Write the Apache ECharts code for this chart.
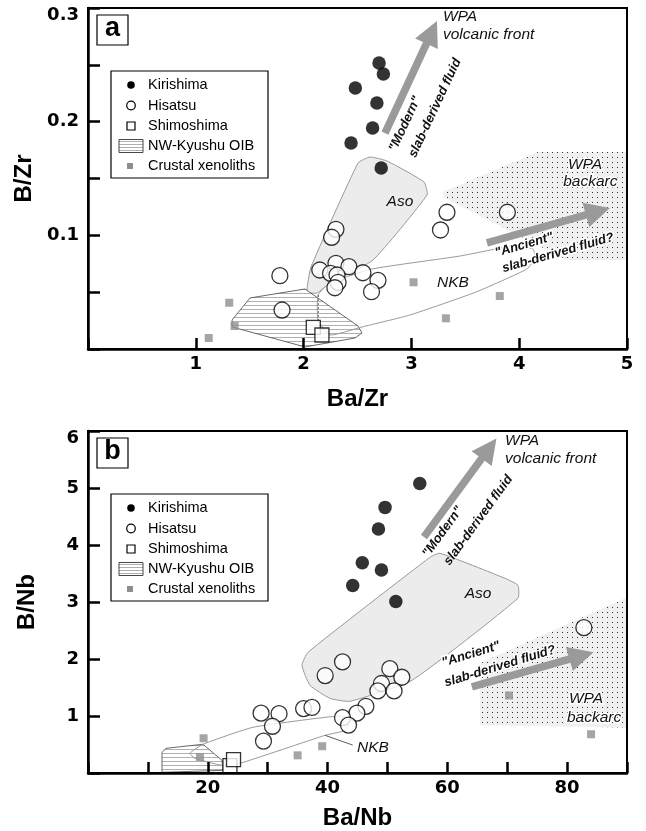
<!DOCTYPE html>
<html><head><meta charset="utf-8">
<script src="https://cdn.jsdelivr.net/npm/echarts@6/dist/echarts.min.js"></script>
<style>html,body{margin:0;padding:0;background:#fff}#c{width:646px;height:831px}</style>
</head><body><div id="c"></div>
<script>
// ================= DATA =================
// Panel a : Ba/Zr (x) vs B/Zr (y)
const xTicksA = [1, 2, 3, 4, 5];
const yTicksA = [0.1, 0.2, 0.3];
const kirishimaA = [[2.70,0.2516],[2.74,0.2419],[2.48,0.2296],[2.68,0.2164],[2.64,0.1944],[2.44,0.1812],[2.72,0.1592]];
const hisatsuA = [[2.30,0.1053],[2.26,0.0983],[1.78,0.0645],[2.15,0.0695],[2.30,0.0754],[2.42,0.0724],[2.25,0.0666],
  [2.31,0.0651],[2.32,0.0587],[2.29,0.0539],[2.55,0.0671],[2.69,0.0604],[2.63,0.0504],[1.80,0.0343],
  [3.33,0.1203],[3.27,0.1047],[3.89,0.1203]];
const shimoshimaA = [[2.09,0.0191],[2.17,0.0123]];
const crustalA = [[1.31,0.0407],[1.36,0.0202],[1.12,0.0097],[3.02,0.0587],[3.82,0.0466],[3.32,0.0270]];
// fields (vertices in data units)
const oibA = [[1.336,0.0255],[1.503,0.0449],[2.013,0.0528],[2.505,0.0202],[2.542,0.0141],[2.477,0.0097],[2.013,0.0018],[1.336,0.0194]];
const oibDivideA = [[2.137,0.0475],[2.137,0.0229]];
const asoA = [[2.032,0.0501],[2.069,0.0721],[2.505,0.1636],[2.616,0.1689],[2.774,0.1654],[3.117,0.1469],[3.145,0.1355],[2.644,0.0783],[2.245,0.0581],[2.124,0.0493]];
const nkbA = [[2.134,0.0475],[2.245,0.0581],[2.635,0.0704],[3.451,0.0818],[3.942,0.0906],[4.128,0.0880],[4.147,0.0801],[4.072,0.0704],[3.599,0.0501],[2.987,0.0299],[2.542,0.0194],[2.245,0.0123],[2.134,0.0255]];
const backarcA = [[3.293,0.1381],[4.174,0.1733],[5.0,0.1733],[5.0,0.0783],[4.443,0.0783],[3.293,0.1337]];
const modernArrowA = [2.755,0.190,3.237,0.2886];
const ancientArrowA = [3.701,0.0933,4.842,0.124];

// Panel b : Ba/Nb (x) vs B/Nb (y)
const xTicksB = [20, 40, 60, 80];
const yTicksB = [1, 2, 3, 4, 5, 6];
const kirishimaB = [[55.4,5.08],[49.6,4.66],[48.5,4.28],[45.8,3.69],[49.0,3.56],[44.2,3.29],[51.4,3.01]];
const hisatsuB = [[28.9,1.05],[31.9,1.04],[30.8,0.82],[29.3,0.56],[36.0,1.13],[37.4,1.15],[39.6,1.71],[42.5,1.95],
  [50.4,1.83],[52.4,1.68],[49.0,1.57],[48.4,1.44],[51.1,1.44],[46.4,1.17],[44.9,1.05],[42.5,0.97],[43.5,0.84],[82.8,2.55]];
const shimoshimaB = [[23.7,0.13],[24.3,0.235]];
const crustalB = [[19.3,0.61],[18.7,0.28],[35.0,0.31],[39.1,0.47],[70.3,1.36],[84.0,0.68]];
const oibB = [[12.36,0.363],[13.02,0.433],[19.2,0.504],[22.37,0.223],[22.54,0.047],[12.36,0.012]];
const asoB = [[35.73,1.889],[36.73,2.117],[57.1,3.784],[58.77,3.854],[69.62,3.416],[71.79,3.293],[71.79,3.065],[54.09,1.626],[43.74,1.258],[40.4,1.31],[37.06,1.539]];
const nkbB = [[17.03,0.346],[19.2,0.504],[27.55,0.802],[41.24,0.995],[43.74,0.96],[42.9,0.75],[39.57,0.661],[25.38,0.17],[22.37,0.135],[17.86,0.258]];
const nkbLeaderB = [[39.6,0.66],[44.2,0.49]];
const backarcB = [[65.45,1.925],[90,3.08],[90,0.80],[65.45,0.837]];
const modernArrowB = [56.1,4.14,68.2,5.87];
const ancientArrowB = [64.1,1.51,84.4,2.12];

// ================= ANNOTATIONS (anchors in data units) =================
const IT = 'italic 15.5px "Liberation Sans", Arial, sans-serif';
const BI = 'italic bold 13px "Liberation Sans", Arial, sans-serif';
const notesA = [
  {text:'WPA', at:[3.293,0.2921], font:IT, align:'left'},
  {text:'volcanic front', at:[3.293,0.2762], font:IT, align:'left'},
  {text:'"Modern"', at:[2.941,0.1979], font:BI, rot:65},
  {text:'slab-derived fluid', at:[3.219,0.2120], font:BI, rot:65},
  {text:'Aso', at:[2.894,0.1293], font:IT},
  {text:'NKB', at:[3.386,0.0581], font:IT},
  {text:'WPA', at:[4.61,0.1619], font:IT, halo:true},
  {text:'backarc', at:[4.66,0.1469], font:IT, halo:true},
  {text:'"Ancient"', at:[4.045,0.0915], font:BI, rot:16, halo:true},
  {text:'slab-derived fluid?', at:[4.36,0.0845], font:BI, rot:16, halo:true}
];
const notesB = [
  {text:'WPA', at:[69.63,5.837], font:IT, align:'left'},
  {text:'volcanic front', at:[69.63,5.521], font:IT, align:'left'},
  {text:'"Modern"', at:[59.23,4.228], font:BI, rot:54},
  {text:'slab-derived fluid', at:[65.17,4.433], font:BI, rot:54},
  {text:'Aso', at:[65.12,3.153], font:IT},
  {text:'"Ancient"', at:[63.95,2.083], font:BI, rot:17, halo:true},
  {text:'slab-derived fluid?', at:[68.79,1.872], font:BI, rot:17, halo:true},
  {text:'WPA', at:[83.15,1.311], font:IT, halo:true},
  {text:'backarc', at:[84.5,0.977], font:IT, halo:true},
  {text:'NKB', at:[47.59,0.451], font:IT}
];

// ================= HELPERS =================
function makePattern(w, h, draw) {
  const c = document.createElement('canvas'); c.width = w; c.height = h;
  draw(c.getContext('2d')); return c;
}
const hatchImg = makePattern(4, 4, g => { g.fillStyle = '#fff'; g.fillRect(0,0,4,4); g.fillStyle = '#b0b0b0'; g.fillRect(0,1,4,1); });
const dotImg = makePattern(5, 5, g => { g.fillStyle = '#f0f0f0'; g.fillRect(0,0,5,5); g.fillStyle = '#333'; g.fillRect(2,2,1,1); });

function polySeries(gi, verts, style, smooth) {
  return {
    type:'custom', xAxisIndex:gi, yAxisIndex:gi, silent:true, clip:true,
    data: verts,
    renderItem: function (params, api) {
      if (params.dataIndex !== 0) return null;
      return {type:'polygon', shape:{points: verts.map(v => api.coord(v)), smooth: smooth || 0}, style: style};
    }
  };
}
function lineSeries(gi, verts, style) {
  return {
    type:'custom', xAxisIndex:gi, yAxisIndex:gi, silent:true, clip:true,
    data: verts,
    renderItem: function (params, api) {
      if (params.dataIndex !== 0) return null;
      return {type:'polyline', shape:{points: verts.map(v => api.coord(v))}, style: style};
    }
  };
}
function arrowSeries(gi, arr) {
  return {
    type:'custom', xAxisIndex:gi, yAxisIndex:gi, silent:true, clip:false,
    encode:{x:[0,2], y:[1,3]},
    data:[arr],
    renderItem: function (params, api) {
      const a = api.coord([api.value(0), api.value(1)]);
      const b = api.coord([api.value(2), api.value(3)]);
      const dx = b[0]-a[0], dy = b[1]-a[1], len = Math.hypot(dx, dy);
      const ux = dx/len, uy = dy/len, nx = -uy, ny = ux;
      const w = 3.8, H = 12.5, L = 25;
      const bx = b[0]-ux*L, by = b[1]-uy*L;
      const pts = [
        [a[0]+nx*w, a[1]+ny*w],[bx+nx*w, by+ny*w],[bx+nx*H, by+ny*H],[b[0],b[1]],
        [bx-nx*H, by-ny*H],[bx-nx*w, by-ny*w],[a[0]-nx*w, a[1]-ny*w]];
      return {type:'polygon', shape:{points:pts}, style:{fill:'#9a9a9a'}};
    }
  };
}
function textSeries(gi, items) {
  return {
    type:'custom', xAxisIndex:gi, yAxisIndex:gi, silent:true, clip:false,
    data: items.map(t => t.at),
    renderItem: function (params, api) {
      const t = items[params.dataIndex];
      const p = api.coord(t.at);
      return {type:'text', x:p[0], y:p[1], rotation:(t.rot||0)*Math.PI/180,
        style:{text:t.text, font:t.font, fill:'#111', align:t.align||'center', verticalAlign:'middle',
          stroke: t.halo ? '#fff' : null, lineWidth: t.halo ? 3 : 0}};
    }
  };
}
function scatter(gi, data, symbol, size, itemStyle) {
  return {type:'scatter', xAxisIndex:gi, yAxisIndex:gi, data:data, symbol:symbol, symbolSize:size,
    itemStyle:itemStyle, silent:true};
}

const TICKFONT = {fontFamily:'"DejaVu Sans", sans-serif', fontWeight:'bold', fontSize:18, color:'#000'};
function near(v, t) { return Math.abs(v - t) < 1e-6; }
function makeX(gi, min, max, interval, ticks, name, gap) {
  return {type:'value', gridIndex:gi, min:min, max:max, interval:interval, z:20,
    name:name, nameLocation:'middle', nameGap:gap,
    nameTextStyle:{fontFamily:'"Liberation Sans", Arial, sans-serif', fontWeight:'bold', fontSize:24, color:'#000'},
    axisLine:{lineStyle:{color:'#000', width:2.5}},
    axisTick:{inside:true, length:11, lineStyle:{color:'#000', width:2.5}},
    axisLabel:Object.assign({margin:6, formatter: v => ticks.some(t => near(t, v)) ? String(ticks.find(t => near(t, v))) : ''}, TICKFONT),
    splitLine:{show:false}};
}
function makeY(gi, min, max, interval, ticks, top, name, fmt) {
  return {type:'value', gridIndex:gi, min:min, max:max, interval:interval, z:20,
    name:name, nameLocation:'middle', nameGap:49, nameRotate:90,
    nameTextStyle:{fontFamily:'"Liberation Sans", Arial, sans-serif', fontWeight:'bold', fontSize:24, color:'#000'},
    axisLine:{lineStyle:{color:'#000', width:2.5}},
    axisTick:{inside:true, length:12, lineStyle:{color:'#000', width:2.5}},
    axisLabel:Object.assign({margin:9,
      formatter: v => {
        const t = ticks.find(t => near(t, v));
        if (t === undefined) return '';
        return near(t, top) ? '{t|' + fmt(t) + '}' : fmt(t);
      },
      rich:{t:Object.assign({padding:[14,0,0,0]}, TICKFONT)}}, TICKFONT),
    splitLine:{show:false}};
}

// ================= LEGEND / PANEL LETTERS (graphic) =================
function legendGroup(x, y) {
  const rows = [14, 34.5, 55, 75, 95];
  const tx = 37, sx = 20;
  const font = '14.5px "Liberation Sans", Arial, sans-serif';
  const names = ['Kirishima', 'Hisatsu', 'Shimoshima', 'NW-Kyushu OIB', 'Crustal xenoliths'];
  const ch = [
    {type:'rect', shape:{x:0, y:0, width:157, height:107}, style:{fill:'#fff', stroke:'#000', lineWidth:1.2}},
    {type:'circle', shape:{cx:sx, cy:rows[0], r:3.8}, style:{fill:'#000'}},
    {type:'circle', shape:{cx:sx, cy:rows[1], r:4.3}, style:{fill:'#fff', stroke:'#000', lineWidth:1.2}},
    {type:'rect', shape:{x:sx-4, y:rows[2]-4, width:8, height:8}, style:{fill:'#fff', stroke:'#000', lineWidth:1.2}},
    {type:'rect', shape:{x:sx-4, y:rows[4]-3, width:6, height:6}, style:{fill:'#8e8e8e'}}
  ];
  for (let k = 0; k < 4; k++) {
    ch.push({type:'line', shape:{x1:sx-12, y1:rows[3]-4.5+k*3, x2:sx+12, y2:rows[3]-4.5+k*3}, style:{stroke:'#b0b0b0', lineWidth:1}});
  }
  ch.push({type:'rect', shape:{x:sx-12, y:rows[3]-6.5, width:24, height:13}, style:{fill:null, stroke:'#333', lineWidth:0.9}});
  names.forEach((n, i) => ch.push({type:'text', x:tx, y:rows[i], style:{text:n, font:font, fill:'#000', align:'left', verticalAlign:'middle'}}));
  return {type:'group', x:x, y:y, children:ch, z:50};
}
function letterGroup(x, y, letter) {
  return {type:'group', x:x, y:y, z:50, children:[
    {type:'rect', shape:{x:0, y:0, width:31, height:30}, style:{fill:'#fff', stroke:'#000', lineWidth:1.2}},
    {type:'text', x:15.5, y:14, style:{text:letter, font:'bold 27px "Liberation Sans", Arial, sans-serif', fill:'#000', align:'center', verticalAlign:'middle'}}
  ]};
}

// ================= OPTION =================
const hatchFill = {image:hatchImg, repeat:'repeat'};
const dotFill = {image:dotImg, repeat:'repeat'};
const option = {
  animation:false,
  backgroundColor:'#fff',
  grid:[
    {left:88, top:8, width:539, height:341, show:true, borderColor:'#000', borderWidth:2, z:20, backgroundColor:'transparent'},
    {left:88, top:431, width:539, height:342, show:true, borderColor:'#000', borderWidth:2, z:20, backgroundColor:'transparent'}
  ],
  xAxis:[
    makeX(0, 0, 5, 1, xTicksA, 'Ba/Zr', 38),
    makeX(1, 0, 90, 10, xTicksB, 'Ba/Nb', 33)
  ],
  yAxis:[
    makeY(0, 0, 0.3, 0.05, yTicksA, 0.3, 'B/Zr', v => v.toFixed(1)),
    makeY(1, 0, 6, 1, yTicksB, 6, 'B/Nb', v => String(v))
  ],
  graphic:[legendGroup(111, 71), letterGroup(97, 15, 'a'), legendGroup(111, 494), letterGroup(97, 438, 'b')],
  series:[
    // panel a fields
    polySeries(0, backarcA, {fill:dotFill}),
    polySeries(0, asoA, {fill:'#ececec', stroke:'#9a9a9a', lineWidth:1}, 0.15),
    polySeries(0, oibA, {fill:hatchFill, stroke:'#444', lineWidth:0.8}),
    polySeries(0, nkbA, {fill:null, stroke:'#9a9a9a', lineWidth:1}, 0.15),
    lineSeries(0, oibDivideA, {stroke:'#555', lineWidth:0.8, lineDash:[2,2]}),
    arrowSeries(0, modernArrowA),
    arrowSeries(0, ancientArrowA),
    scatter(0, crustalA, 'rect', 8, {color:'#8e8e8e'}),
    scatter(0, shimoshimaA, 'rect', 14, {color:'#fff', borderColor:'#000', borderWidth:1.3}),
    scatter(0, hisatsuA, 'circle', 16, {color:'#fff', borderColor:'#000', borderWidth:1.3}),
    scatter(0, kirishimaA, 'circle', 13.5, {color:'#000'}),
    textSeries(0, notesA),
    // panel b fields
    polySeries(1, backarcB, {fill:dotFill}),
    polySeries(1, asoB, {fill:'#ececec', stroke:'#9a9a9a', lineWidth:1}, 0.15),
    polySeries(1, oibB, {fill:hatchFill, stroke:'#444', lineWidth:0.8}),
    polySeries(1, nkbB, {fill:null, stroke:'#9a9a9a', lineWidth:1}, 0.15),
    lineSeries(1, nkbLeaderB, {stroke:'#333', lineWidth:0.8}),
    arrowSeries(1, modernArrowB),
    arrowSeries(1, ancientArrowB),
    scatter(1, crustalB, 'rect', 8, {color:'#8e8e8e'}),
    scatter(1, shimoshimaB, 'rect', 14, {color:'#fff', borderColor:'#000', borderWidth:1.3}),
    scatter(1, hisatsuB, 'circle', 16, {color:'#fff', borderColor:'#000', borderWidth:1.3}),
    scatter(1, kirishimaB, 'circle', 13.5, {color:'#000'}),
    textSeries(1, notesB)
  ]
};
echarts.init(document.getElementById('c')).setOption(option);
</script>
</body></html>
